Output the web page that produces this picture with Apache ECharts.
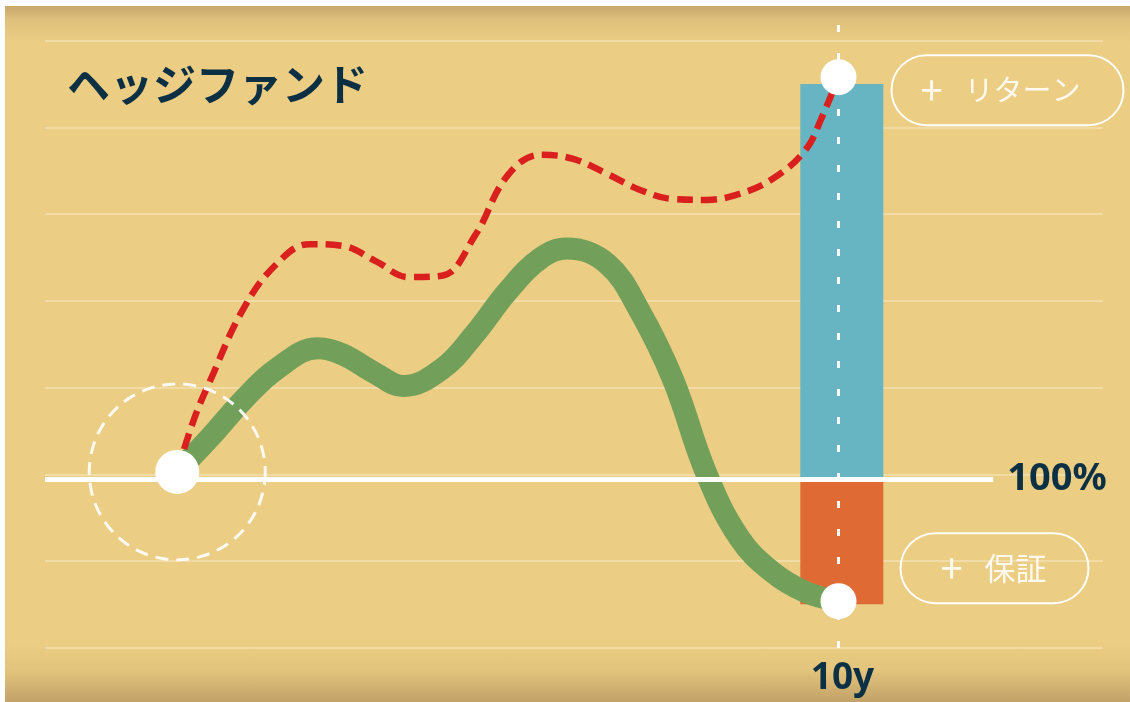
<!DOCTYPE html>
<html>
  <head>
    <meta charset="utf-8" />
    <title>ヘッジファンド</title>
    <script src="https://cdn.jsdelivr.net/npm/echarts@6/dist/echarts.min.js"></script>
    <style>
      html, body { margin: 0; padding: 0; background: #ffffff; }
      #chart {
        position: absolute; left: 5px; top: 6px; width: 1125px; height: 696px;
        background: linear-gradient(to bottom, #c7a76b 0px, #dfc07b 14px, #ebcd83 36px,
          #ebcd83 636px, #e3c47c 664px, #c2a268 696px);
      }
    </style>
  </head>
  <body>
    <div id="chart"></div>
    <script type="text/javascript">
      // 年 (x) と 元本比 % (y)
      var greenX = [0, 0.5, 1, 1.5, 2.13, 2.5, 3, 3.42, 4, 4.5, 5, 5.5, 5.89, 6.5, 7, 7.5, 8, 8.5, 9, 9.5, 10];
      var greenY = [100.6, 108.6, 117.2, 124.3, 129.1, 127.7, 123.3, 120.4, 124.3, 132.4, 142.3,
                    149.9, 152.1, 148.6, 137.5, 121.8, 100.3, 85.4, 77.5, 72.9, 70.8];
      var redX = [0, 0.25, 0.5, 1, 1.5, 2, 2.5, 3, 3.5, 4, 4.5, 5, 5.5, 6, 6.5, 7, 7.5, 8, 8.5, 9, 9.5, 9.75, 10];
      var redY = [100.6, 112.6, 121.7, 138.2, 148.5, 153.1, 152.7, 149.2, 145.5, 145.8, 155.0, 169.0,
                  173.7, 172.7, 169.3, 165.6, 163.5, 163.3, 164.7, 168.1, 174.8, 182.4, 191.6];

      // 10年時点の棒 (リターン / 保証)
      var barX = 10.05;
      var barLow = [99, 70.1];
      var barHigh = [190, 99];
      var barColors = ["#67b5c2", "#e06a33"];

      var baseLevel = 99;      // 100% の線
      var baseEnd = 12.34;
      var dotX = [0, 10, 10];
      var dotY = [100.6, 191.6, 70.8];
      var dotSize = [44, 36, 36];
      var pillTexts = ["", "リターン", "保証"];

      var navy = "#0b3044";
      var jp = "'Noto Sans CJK JP', sans-serif";

      function zip(xs, ys) {
        return xs.map(function (x, i) { return [x, ys[i]]; });
      }

      function pill(text, size, distance, offset, padding) {
        return {
          show: true,
          position: "right",
          distance: distance,
          offset: offset,
          padding: padding,
          formatter: "{p|+}{t|" + text + "}",
          borderColor: "#ffffff",
          borderWidth: 2,
          borderRadius: 36,
          rich: {
            p: { fontSize: 40, width: 44, color: "#fffaf0", fontFamily: jp, lineHeight: 34 },
            t: { fontSize: size, color: "#fffaf0", fontFamily: jp, lineHeight: 34 }
          }
        };
      }

      var dots = dotX.map(function (x, i) {
        return { value: [x, dotY[i]], symbolSize: dotSize[i] };
      });
      dots[1].label = pill(pillTexts[1], 29, 35, [0, 13], [18, 43, 18, 29]);
      dots[2].label = pill(pillTexts[2], 31, 44, [0, -33], [18, 42, 18, 40]);

      var myChart = echarts.init(document.getElementById("chart"));
      var option = {
        animation: false,
        title: {
          text: "ヘッジファンド",
          left: 57,
          top: 52,
          textStyle: { fontFamily: jp, fontWeight: "bold", fontSize: 43, color: navy }
        },
        grid: { left: 40, right: 27, top: 0, bottom: 54 },
        xAxis: {
          type: "value",
          min: -2,
          max: 14,
          interval: 2,
          axisLine: { show: false },
          axisTick: { show: false },
          splitLine: { show: false },
          axisLabel: {
            margin: 12,
            padding: [0, 0, 0, 8],
            fontFamily: "'Noto Sans', sans-serif",
            fontWeight: "bold",
            fontSize: 37,
            color: navy,
            formatter: function (v) { return v === 10 ? "10y" : ""; }
          }
        },
        yAxis: {
          type: "value",
          min: 60,
          max: 208,
          interval: 20,
          axisLine: { show: false },
          axisTick: { show: false },
          axisLabel: { show: false },
          splitLine: {
            showMaxLine: false,
            lineStyle: { color: "rgba(255,255,255,0.4)", width: 1.5 }
          }
        },
        series: [
          {
            type: "custom",
            z: 1,
            data: barLow.map(function (lo, i) {
              return { value: [barX, lo, barHigh[i]], itemStyle: { color: barColors[i] } };
            }),
            renderItem: function (params, api) {
              var top = api.coord([api.value(0), api.value(2)]);
              var bottom = api.coord([api.value(0), api.value(1)]);
              var w = api.size([1.255, 0])[0];
              return {
                type: "rect",
                shape: { x: top[0] - w / 2, y: top[1], width: w, height: bottom[1] - top[1] },
                style: { fill: api.visual("color") }
              };
            }
          },
          {
            type: "line",
            z: 2,
            smooth: 0.4,
            showSymbol: false,
            data: zip(greenX, greenY),
            lineStyle: { color: "#72a05a", width: 22, cap: "round", join: "round" }
          },
          {
            type: "line",
            z: 3,
            smooth: 0.4,
            showSymbol: false,
            data: zip(redX, redY),
            lineStyle: { color: "#d9201f", width: 6.5, type: [16, 8] }
          },
          {
            type: "line",
            z: 4,
            data: [],
            markLine: {
              silent: true,
              symbol: ["none", "none"],
              data: [
                [
                  { coord: [-2, baseLevel], lineStyle: { color: "#ffffff", width: 5, type: "solid" } },
                  { coord: [baseEnd, baseLevel] }
                ],
                {
                  xAxis: 10,
                  lineStyle: { color: "#ffffff", width: 3, type: [7, 21] },
                  label: { show: false }
                }
              ],
              label: {
                show: true,
                position: "end",
                distance: 14,
                formatter: "100%",
                fontFamily: "'Noto Sans', sans-serif",
                fontWeight: "bold",
                fontSize: 38,
                color: navy
              }
            }
          },
          {
            type: "scatter",
            z: 5,
            symbol: "circle",
            data: [{ value: [dotX[0], dotY[0]], symbolSize: 176 }],
            itemStyle: {
              opacity: 1,
              color: "rgba(0,0,0,0)",
              borderColor: "rgba(255,255,255,0.9)",
              borderWidth: 3,
              borderType: [13, 8]
            }
          },
          {
            type: "scatter",
            z: 6,
            symbol: "circle",
            data: dots,
            itemStyle: { color: "#ffffff", opacity: 1 }
          }
        ]
      };
      myChart.setOption(option);
    </script>
  </body>
</html>
